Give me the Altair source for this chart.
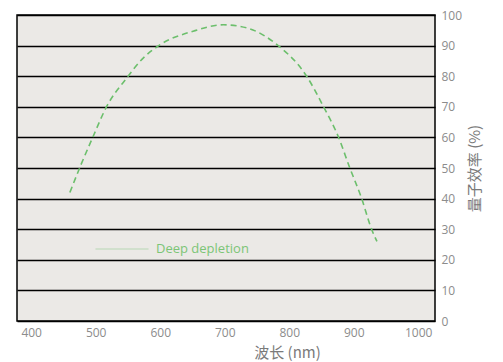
import altair as alt
import pandas as pd

wavelength = [460, 478, 496, 517, 548, 574, 600, 651, 698, 734, 781, 827, 853, 876, 894, 912, 928, 936]
qe = [42, 51.5, 60.3, 70.1, 79.4, 86.0, 90.3, 94.7, 96.8, 95.8, 90.3, 80.0, 70.1, 60.3, 50.0, 40.2, 29.8, 26.0]
series = ["Deep depletion"] * len(wavelength)
x_ticks = [400, 500, 600, 700, 800, 900, 1000]
y_ticks = [0, 10, 20, 30, 40, 50, 60, 70, 80, 90, 100]

df = pd.DataFrame({"wl": wavelength, "qe": qe, "s": series})

green = "#6cbf6c"

line = alt.Chart(df).mark_line(
    strokeDash=[6, 4], strokeWidth=1.6, interpolate="monotone"
).encode(
    x=alt.X("wl:Q", scale=alt.Scale(domain=[378, 1026], nice=False, zero=False),
            axis=alt.Axis(values=x_ticks, format="d", grid=False, ticks=False, domain=False,
                          labelColor="#8c8c8c", labelFontSize=12, labelPadding=6,
                          labelFont="Open Sans",
                          title="波长 (nm)", titleFont="Noto Sans CJK SC", titleFontSize=15,
                          titleFontWeight="normal", titleColor="#7a7a7a",
                          titleX=270, titleY=31, titleAnchor="start", titleAlign="center",
                          titleBaseline="middle")),
    y=alt.Y("qe:Q", scale=alt.Scale(domain=[0, 100], nice=False),
            axis=alt.Axis(orient="right", values=y_ticks, grid=True, gridColor="#000000",
                          gridWidth=1.3, gridOpacity=1, ticks=False, domain=False,
                          labelColor="#8c8c8c", labelFontSize=12, labelPadding=6,
                          labelFont="Open Sans",
                          title="量子效率 (%)", titleFont="Noto Sans CJK SC", titleFontSize=15,
                          titleFontWeight="normal", titleColor="#7a7a7a", titleAngle=270,
                          titleX=39, titleY=153, titleAnchor="start", titleAlign="center",
                          titleBaseline="middle")),
    color=alt.Color("s:N", scale=alt.Scale(range=[green]),
                    legend=alt.Legend(orient="none", legendX=78, legendY=207, title=None,
                                      symbolType="stroke", symbolSize=2800, symbolDash=[1, 0],
                                      symbolStrokeWidth=1, symbolOpacity=0.45,
                                      labelColor="#7cc576", labelFontSize=13,
                                      labelFont="Open Sans", labelOffset=7, padding=0)),
)

chart = line.properties(
    width=418, height=306,
    background="#ffffff",
    autosize=alt.AutoSizeParams(type="none"),
    padding={"left": 9, "top": 7, "right": 60, "bottom": 48},
).configure_view(
    fill="#ebe9e6", stroke="#000000", strokeWidth=1.5
)

chart.save("out.html", embed_options={"renderer": "svg", "actions": False})
